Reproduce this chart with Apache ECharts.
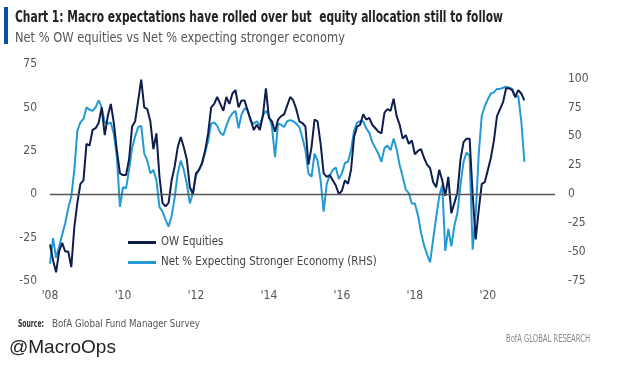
<!DOCTYPE html>
<html><head><meta charset="utf-8">
<script src="https://cdn.jsdelivr.net/npm/echarts@6/dist/echarts.min.js"></script>
<style>html,body{margin:0;padding:0;background:#fff}#c{width:627px;height:368px}</style>
</head><body><div id="c"></div>
<script>
// Monthly data, Jan 2008 .. Jan 2021
var startYear = 2008;
var xTickLabels = ["'08","'10","'12","'14","'16","'18","'20"];
var leftTicks = [-50, -25, 0, 25, 50, 75];
var rightTicks = [-75, -50, -25, 0, 25, 50, 75, 100];
var owEquities = [
 -29,-38,-45,-33,-28,-33,-33,-42,-19,-5,6,8,
 29,28,37,38,41,50,34,45,52,41,25,12,
 11,11,20,39,42,54,66,50,49,42,26,35,
 10,-5,-7,-5,8,16,27,33,27,20,4,0,
 12,14,18,25,35,50,52,56,52,48,56,52,
 58,60,50,54,54,48,43,37,40,37,45,61,
 44,42,36,43,45,46,51,56,54,49,42,41,
 39,17,27,43,42,29,12,10,11,8,5,0,
 2,8,6,14,33,39,40,46,43,44,40,38,
 36,35,47,49,48,55,45,40,32,34,29,31,
 23,25,26,21,17,15,7,4,14,8,-1,10,
 -11,-5,1,20,30,32,32,0,-26,-9,6,7,
 14,21,31,45,49,53,61,61,60,56,60,58,
 54
];
var economyRHS = [
 -60,-38,-55,-45,-35,-25,-12,-2,21,55,62,65,
 75,73,72,75,81,75,62,61,62,52,32,-11,
 6,5,21,40,50,58,59,35,29,18,21,12,
 -11,-15,-22,-28,-19,-3,18,29,21,9,-8,1,
 16,21,26,36,46,61,62,59,53,51,59,66,
 70,72,57,69,74,73,63,61,63,59,68,72,
 68,58,32,61,60,58,63,64,63,61,58,49,
 38,18,15,35,29,12,-15,9,16,21,23,13,
 18,27,28,38,55,62,63,63,57,53,45,40,
 35,28,40,42,38,48,39,25,15,4,1,-8,
 -8,-18,-33,-44,-52,-59,-39,-20,-2,8,-49,-30,
 -45,-27,-16,8,28,36,33,-48,-17,35,68,76,
 82,87,88,91,91,92,93,92,91,84,85,63,
 28
];
function pairs(vals){ var out=[]; for(var i=0;i<vals.length;i++){ out.push([startYear + i/12, vals[i]]); } return out; }

var NARROW = "'DejaVu Sans Condensed','DejaVu Sans',sans-serif";
var mctx = document.createElement('canvas').getContext('2d');
function fitText(text, font, x, y, width, fill){
  mctx.font = font;
  var w = mctx.measureText(text).width;
  return {type:'text', x:x, y:y, scaleX:width / w,
    style:{text:text, font:font, fill:fill, verticalAlign:'middle'}};
}

var chart = echarts.init(document.getElementById('c'), null, {renderer:'canvas'});
chart.setOption({
  animation:false,
  backgroundColor:'#ffffff',
  grid:{left:50,right:72,top:64,bottom:87,containLabel:false},
  xAxis:{type:'value',min:2008,max:2021.84,interval:2,
    axisLine:{show:false},axisTick:{show:false},splitLine:{show:false},
    axisLabel:{showMaxLabel:false,margin:9,color:'#555',fontFamily:NARROW,fontSize:12,
      formatter:function(v){var i=(v-2008)/2; return (Math.abs(i-Math.round(i))<1e-6 && xTickLabels[Math.round(i)])||'';}}},
  yAxis:[
    {type:'value',min:-50,max:75,interval:25,position:'left',
      axisLine:{show:false},axisTick:{show:false},splitLine:{show:false},
      axisLabel:{margin:13,color:'#555',fontFamily:NARROW,fontSize:12,
        formatter:function(v){return leftTicks.indexOf(v)>=0?String(v):'';}}},
    {type:'value',min:-75,max:112.5,interval:25,position:'right',
      axisLine:{show:false},axisTick:{show:false},splitLine:{show:false},
      axisLabel:{showMaxLabel:false,margin:13,color:'#555',fontFamily:NARROW,fontSize:12,
        formatter:function(v){return rightTicks.indexOf(v)>=0?String(v):'';}}}
  ],
  legend:{orient:'vertical',left:128,top:237,padding:0,itemWidth:28,itemHeight:3,itemGap:9,icon:'rect',
    textStyle:{color:'#444',fontFamily:NARROW,fontSize:11.4},
    data:['OW Equities','Net % Expecting Stronger Economy (RHS)']},
  series:[
    {name:'Net % Expecting Stronger Economy (RHS)',type:'line',yAxisIndex:1,data:pairs(economyRHS),
      showSymbol:false,lineStyle:{color:'#2499d4',width:2},itemStyle:{color:'#2499d4'},z:2,
      markLine:{silent:true,symbol:'none',label:{show:false},lineStyle:{color:'#555',width:1.3,type:'solid'},
        data:[{yAxis:0}]}},
    {name:'OW Equities',type:'line',yAxisIndex:0,data:pairs(owEquities),
      showSymbol:false,lineStyle:{color:'#0f1d4d',width:2},itemStyle:{color:'#0f1d4d'},z:3}
  ],
  graphic:[
    {type:'rect',shape:{x:4,y:7,width:4,height:37},style:{fill:'#0b4fa6'}},
    fitText('Chart 1: Macro expectations have rolled over but  equity allocation still to follow',
      "bold 15.5px "+NARROW, 15, 18, 488, '#222'),
    fitText('Net % OW equities vs Net % expecting stronger economy', "14px "+NARROW, 15, 38, 330, '#555'),
    fitText('Source:', "bold 10px "+NARROW, 18, 324, 26, '#333'),
    fitText('BofA Global Fund Manager Survey', "10.5px "+NARROW, 52, 324, 148, '#555'),
    fitText('BofA GLOBAL RESEARCH', "10px "+NARROW, 506, 339, 84, '#888'),
    {type:'text',x:9,y:348,style:{text:'@MacroOps',font:"19px 'Liberation Sans',Arial,sans-serif",fill:'#222',verticalAlign:'middle'}}
  ]
});
</script></body></html>
